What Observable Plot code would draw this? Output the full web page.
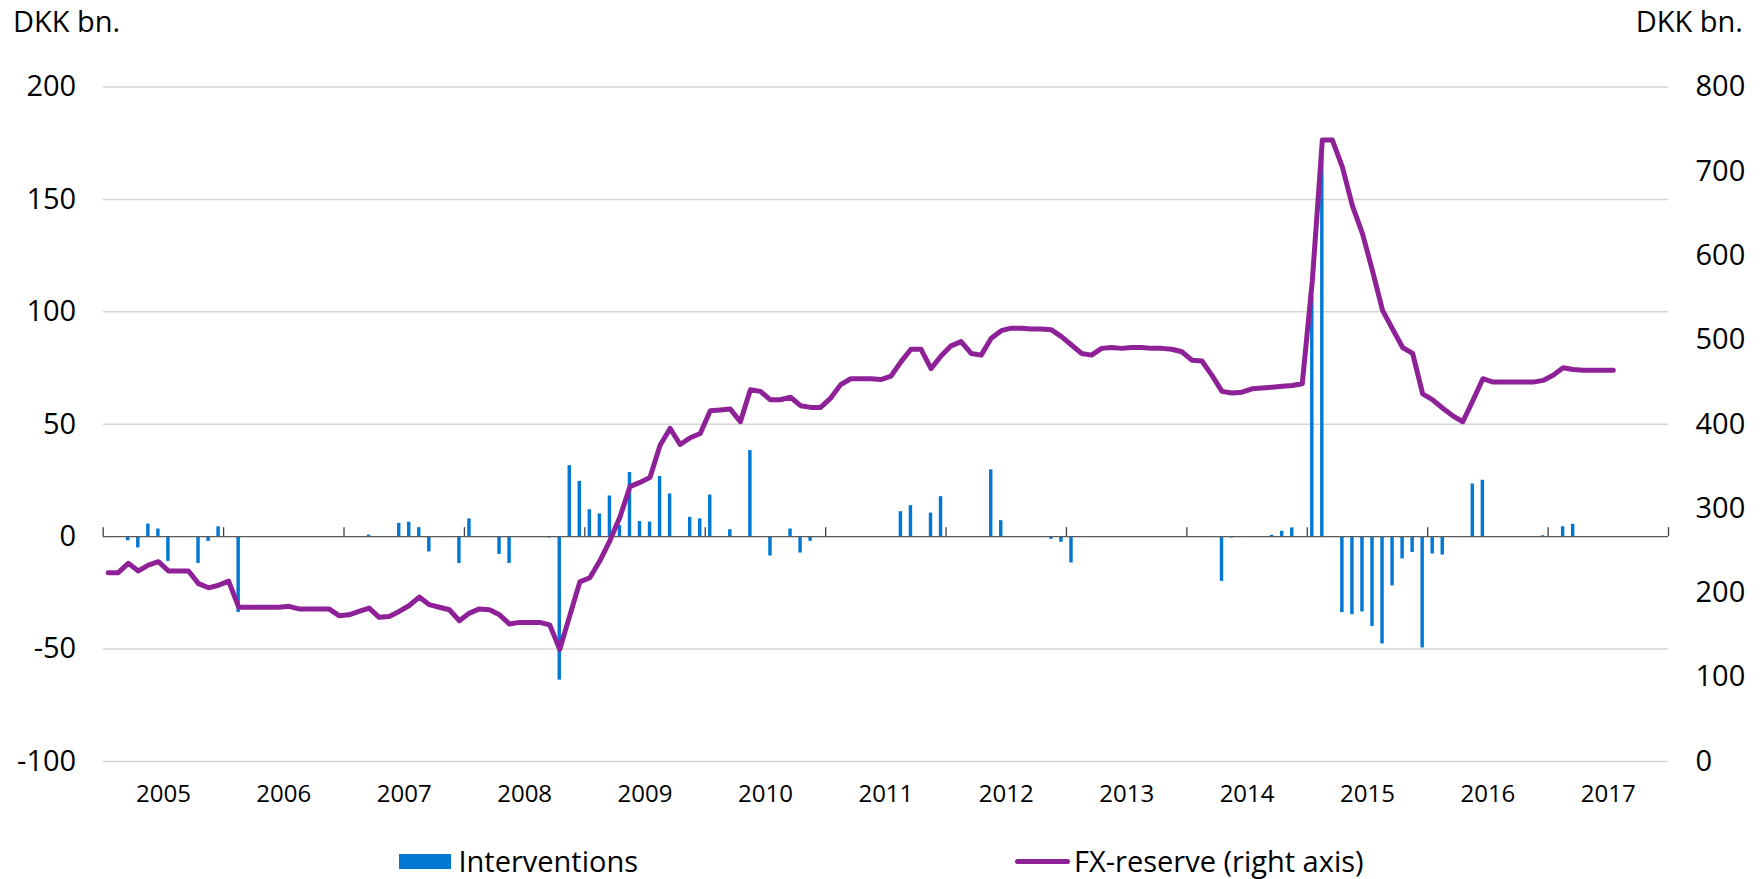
<!DOCTYPE html>
<html>
<head>
<meta charset="utf-8">
<script src="https://cdn.jsdelivr.net/npm/d3@7"></script>
<script src="https://cdn.jsdelivr.net/npm/@observablehq/plot@0.6"></script>
<style>
html, body { margin: 0; padding: 0; background: #fff; overflow: hidden; }
body { width: 1763px; height: 879px; font-family: "Open Sans", sans-serif; color: #000; }
#header { position: relative; height: 50px; }
#header span { position: absolute; top: 6px; font-size: 29px; line-height: 29px; white-space: nowrap; }
#lt { left: 13px; }
#rt { right: 20px; }
#chart svg { display: block; }
#legend { height: 44px; box-sizing: border-box; padding-top: 8px; display: flex; justify-content: center; gap: 377px; font-size: 29px; line-height: 32px; }
.item { display: flex; align-items: center; white-space: nowrap; }
.sw-bar { width: 52px; height: 15px; background: #0078D4; margin-right: 7px; }
.sw-line { width: 55px; height: 5px; background: #8E2098; border-radius: 3px; margin-right: 4px; }
</style>
</head>
<body>
<div id="header"><span id="lt">DKK bn.</span><span id="rt">DKK bn.</span></div>
<div id="chart"></div>
<div id="legend">
  <div class="item"><div class="sw-bar"></div><span>Interventions</span></div>
  <div class="item"><div class="sw-line"></div><span>FX-reserve (right axis)</span></div>
</div>
<script>
// ---- data ----
const years = ["2005","2006","2007","2008","2009","2010","2011","2012","2013","2014","2015","2016","2017"];
const leftTicks = [-100, -50, 0, 50, 100, 150, 200];
const rightTicks = [0, 100, 200, 300, 400, 500, 600, 700, 800];

// Interventions, DKK bn. (left axis), by month
const interventionMonths = [
  "2005-01","2005-03","2005-04","2005-05","2005-06","2005-07","2005-10","2005-11","2005-12",
  "2006-02","2006-04",
  "2007-03","2007-06","2007-07","2007-08","2007-09","2007-12",
  "2008-01","2008-04","2008-05","2008-09","2008-10","2008-11","2008-12",
  "2009-01","2009-02","2009-03","2009-04","2009-05","2009-06","2009-07","2009-08","2009-09","2009-11","2009-12",
  "2010-01","2010-03","2010-05","2010-07","2010-09","2010-10","2010-11",
  "2011-03","2011-08","2011-09","2011-11","2011-12",
  "2012-05","2012-06","2012-09","2012-10","2012-11","2012-12",
  "2013-01",
  "2014-04","2014-05","2014-09","2014-10","2014-11",
  "2015-01","2015-02","2015-04","2015-05","2015-06","2015-07","2015-08","2015-09","2015-10","2015-11","2015-12",
  "2016-01","2016-02","2016-05","2016-06","2016-12",
  "2017-02","2017-03"
];
const interventionValues = [
  -0.4,-1.8,-5.0,5.6,3.4,-11.0,-11.9,-2.1,4.4,
  -33.7,-0.3,
  0.7,5.9,6.4,4.0,-6.8,-11.9,
  7.9,-7.9,-11.9,-0.6,-63.8,31.6,24.6,
  12.0,10.1,18.1,5.0,28.5,6.7,6.5,26.8,19.0,8.6,7.9,
  18.5,3.1,38.3,-8.6,3.4,-7.3,-2.1,
  -0.3,11.1,13.8,10.5,17.8,
  29.7,7.1,-0.3,-0.3,-1.2,-2.5,
  -11.7,
  -19.9,-0.6,0.6,2.4,3.9,
  107,176,-33.8,-34.7,-33.5,-39.9,-47.7,-21.9,-9.9,-7.0,-49.5,
  -7.7,-8.2,23.4,25.1,0.4,
  4.4,5.5
];

// FX reserve, DKK bn. (right axis), monthly from January 2005
const reserveStart = "2005-01";
const reserveValues = [
  224,224,235,226,233,237,226,226,226,211,206,209,
  214,183,183,183,183,183,184,181,181,181,181,173,
  174,178,182,171,172,178,185,195,186,183,180,167,
  176,181,180,174,163,165,165,165,162,133,173,213,
  218,238,262,290,326,331,337,375,395,376,384,389,
  416,417,418,403,441,439,429,429,432,422,420,420,
  431,447,454,454,454,453,457,474,489,489,466,481,
  493,498,484,482,502,511,514,514,513,513,512,504,
  494,484,482,490,491,490,491,491,490,490,489,486,
  476,475,458,439,437,438,442,443,444,445,446,448,
  570,737,737,705,659,626,582,535,513,491,484,436,
  429,419,410,403,428,454,450,450,450,450,450,452,
  458,467,465,464,464,464,464
];

// ---- helpers ----
const monthIndex = s => { const [y, m] = s.split("-").map(Number); return (y - 2005) * 12 + (m - 1); };
const toLeft = r => r * 300 / 800 - 100;   // right-axis value -> left-axis units
const toRight = l => (l + 100) * 800 / 300;

const bars = interventionMonths.map((s, i) => ({m: monthIndex(s), v: interventionValues[i]}));
const start = monthIndex(reserveStart);
const reserve = reserveValues.map((r, i) => ({m: start + i, r}));
const yearBounds = d3.range(years.length + 1).map(i => i * 12);

const BLUE = "#0078D4";
const PURPLE = "#8E2098";
const FONT = '"Open Sans", sans-serif';

const chart = Plot.plot({
  width: 1763,
  height: 785,
  marginLeft: 102.7,
  marginRight: 95,
  marginTop: 36.5,
  marginBottom: 74,
  style: {fontFamily: FONT, color: "#000", background: "#fff", overflow: "visible"},
  x: {type: "linear", domain: [0, years.length * 12]},
  y: {domain: [-100, 200]},
  marks: [
    Plot.ruleY(leftTicks.filter(d => d !== 0), {stroke: "#d6d6d6", strokeWidth: 1.5}),
    Plot.axisY({anchor: "left", ticks: leftTicks, tickSize: 0, tickPadding: 27, fontSize: 29, tickFormat: d => String(d), label: null}),
    Plot.axisY({anchor: "right", ticks: rightTicks.map(toLeft), tickSize: 0, tickPadding: 27, fontSize: 29, tickFormat: d => String(Math.round(toRight(d))), label: null}),
    Plot.axisX({anchor: "bottom", ticks: years.map((y, i) => i * 12 + 6), tickFormat: d => years[Math.round((d - 6) / 12)], tickSize: 0, tickPadding: 23, fontSize: 24, label: null}),
    Plot.rectY(bars, {x1: d => d.m, x2: d => d.m + 1, y1: 0, y2: "v", insetLeft: 3.3, insetRight: 3.3, fill: BLUE}),
    Plot.ruleY([0], {stroke: "#595959", strokeWidth: 1.3}),
    Plot.ruleX(yearBounds, {x: d => d, y1: 0, y2: 0, insetTop: -9, stroke: "#404040", strokeWidth: 1.3}),
    Plot.line(reserve, {x: d => d.m + 0.5, y: d => toLeft(d.r), stroke: PURPLE, strokeWidth: 5, strokeLinejoin: "round", strokeLinecap: "round"})
  ]
});
document.getElementById("chart").appendChild(chart);
</script>
</body>
</html>
